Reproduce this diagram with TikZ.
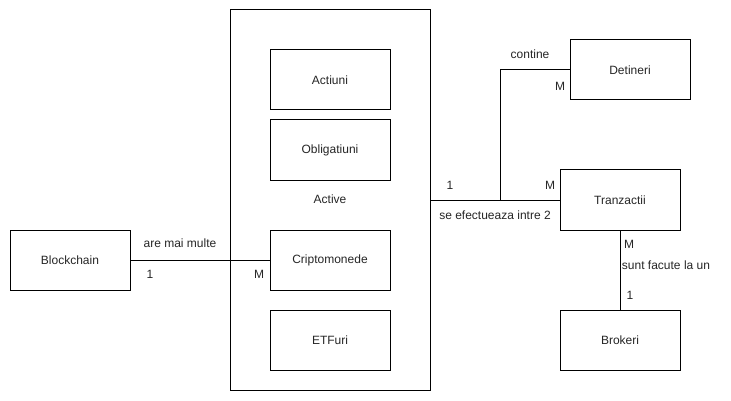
\documentclass[tikz,border=0pt]{standalone}
\usepackage{fontspec}
\setmainfont{Liberation Sans}
\begin{document}
\begin{tikzpicture}[x=1pt,y=-1pt,
  ent/.style={draw=black,line width=1pt,minimum width=120pt,minimum height=60pt,inner sep=0pt,font=\fontsize{12}{14}\selectfont,text=black!85},
  lbl/.style={inner sep=0pt,font=\fontsize{12}{14}\selectfont,text=black!85},
  conn/.style={draw=black,line width=1pt}]
\useasboundingbox[fill=white] (0,0) rectangle (731,401);
\node[draw=black,line width=1pt,minimum width=200pt,minimum height=380pt,inner sep=0pt] (active) at (330,200) {};
\node[lbl] (activelbl) at (330,199) {Active};
\node[ent] (actiuni) at (330,80) {Actiuni};
\node[ent] (oblig) at (330,150) {Obligatiuni};
\node[ent] (cripto) at (330,260) {Criptomonede};
\node[ent] (etf) at (330,340) {ETFuri};
\node[ent] (block) at (70,260) {Blockchain};
\node[ent] (det) at (630,70) {Detineri};
\node[ent] (tranz) at (620,200) {Tranzactii};
\node[ent] (brok) at (620,340) {Brokeri};
\coordinate (j) at (500,200);
\draw[conn] (block.east) -- (cripto.west);
\draw[conn] (active.east |- tranz.west) -- (tranz.west);
\draw[conn] (j) -- (j |- det.west) -- (det.west);
\draw[conn] (tranz.south) -- (brok.north);
\node[lbl] (l1) at (180,243) {are mai multe};
\node[lbl] (l2) at (150,274) {1};
\node[lbl] (l3) at (259,274) {M};
\node[lbl] (l4) at (530,54) {contine};
\node[lbl] (l5) at (560,86) {M};
\node[lbl] (l6) at (450,185) {1};
\node[lbl] (l7) at (550,185) {M};
\node[lbl] (l8) at (495,215) {se efectueaza intre 2};
\node[lbl] (l9) at (629,244) {M};
\node[lbl] (l10) at (666,265) {sunt facute la un};
\node[lbl] (l11) at (630,295) {1};
\end{tikzpicture}
\end{document}
